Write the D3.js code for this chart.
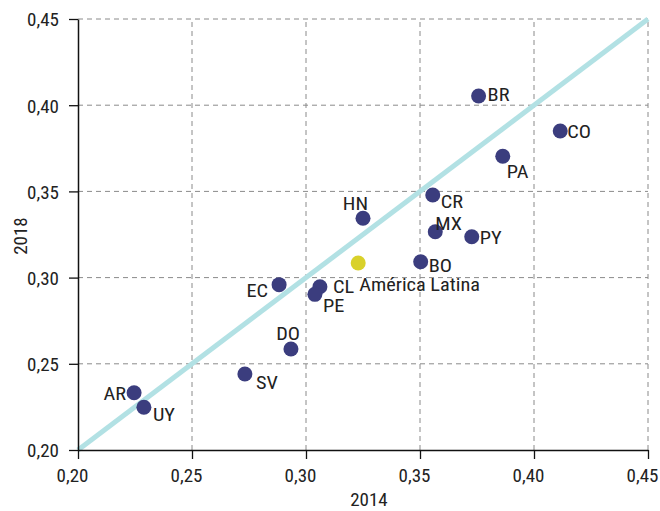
<!DOCTYPE html>
<html>
<head>
<meta charset="utf-8">
<script src="https://cdn.jsdelivr.net/npm/d3@7"></script>
<style>
  html, body { margin: 0; padding: 0; background: #fff; }
  text { font-family: "Roboto Condensed", Roboto, sans-serif; fill: #222; }
</style>
</head>
<body>
<svg id="chart" width="660" height="511"></svg>
<script>
// ---- data ----
const codes = ["AR","UY","EC","CL","PE","HN","América Latina","BO","CR","MX","PY","BR","CO","PA","DO","SV"];
const x2014 = [0.2246,0.2289,0.2882,0.3061,0.3039,0.3250,0.3229,0.3503,0.3556,0.3567,0.3727,0.3757,0.4115,0.3863,0.2934,0.2732];
const y2018 = [0.2332,0.2248,0.2959,0.2947,0.2903,0.3344,0.3085,0.3092,0.3479,0.3266,0.3237,0.4053,0.3850,0.3704,0.2586,0.2441];
const isRegion = [0,0,0,0,0,0,1,0,0,0,0,0,0,0,0,0];
const tickValues = [0.20,0.25,0.30,0.35,0.40,0.45];
const tickLabels = ["0,20","0,25","0,30","0,35","0,40","0,45"];
const xTitle = "2014", yTitle = "2018";

// ---- label layout (offsets in px from point centre) ----
const labelLayout = {
  "AR": {dx:-8, dy:7, anchor:"end"},
  "UY": {dx:9, dy:14, anchor:"start"},
  "EC": {dx:-11, dy:12, anchor:"end"},
  "CL": {dx:13, dy:6, anchor:"start"},
  "PE": {dx:8, dy:18, anchor:"start"},
  "HN": {dx:5, dy:-8, anchor:"end"},
  "América Latina": {dx:1, dy:28, anchor:"start"},
  "BO": {dx:8, dy:10, anchor:"start"},
  "CR": {dx:8, dy:13, anchor:"start"},
  "MX": {dx:0, dy:-2, anchor:"start"},
  "PY": {dx:8, dy:7, anchor:"start"},
  "BR": {dx:9, dy:5, anchor:"start"},
  "CO": {dx:7, dy:7, anchor:"start"},
  "PA": {dx:4, dy:22, anchor:"start"},
  "DO": {dx:9, dy:-9, anchor:"end"},
  "SV": {dx:11, dy:15, anchor:"start"}
};

const svg = d3.select("#chart");
const mLeft = 78, mRight = 648, mTop = 19, mBottom = 450;
const x = d3.scaleLinear().domain([0.20,0.45]).range([mLeft,mRight]);
const y = d3.scaleLinear().domain([0.20,0.45]).range([mBottom,mTop]);
const fmt = d => tickLabels[tickValues.findIndex(t => Math.abs(t-d) < 1e-9)];

// grid
const grid = svg.append("g");
tickValues.slice(1).forEach(t => {
  grid.append("line").attr("x1", x(t)).attr("x2", x(t)).attr("y1", mBottom).attr("y2", mTop)
    .attr("stroke", "#8a8a8a").attr("stroke-width", 1).attr("stroke-dasharray", "5,4");
  grid.append("line").attr("x1", mLeft).attr("x2", mRight).attr("y1", y(t)).attr("y2", y(t))
    .attr("stroke", "#8a8a8a").attr("stroke-width", 1).attr("stroke-dasharray", "5,4");
});

// diagonal
svg.append("line")
  .attr("x1", x(0.20)).attr("y1", y(0.20)).attr("x2", x(0.45)).attr("y2", y(0.45))
  .attr("stroke", "#b2e1e4").attr("stroke-width", 5);

// axes
const xAxis = d3.axisBottom(x).tickValues(tickValues).tickFormat(fmt).tickSize(9).tickPadding(10).tickSizeOuter(0);
const yAxis = d3.axisLeft(y).tickValues(tickValues).tickFormat(fmt).tickSize(9).tickPadding(10).tickSizeOuter(0);
const gx = svg.append("g").attr("transform", `translate(0,${mBottom})`).call(xAxis);
const gy = svg.append("g").attr("transform", `translate(${mLeft},0)`).call(yAxis);
[gx, gy].forEach(g => {
  g.attr("font-family", null).attr("font-size", null);
  g.select(".domain").attr("stroke", "#111").attr("stroke-width", 1.5);
  g.selectAll(".tick line").attr("stroke", "#111").attr("stroke-width", 1.3);
  g.selectAll(".tick text").style("font-size", "19px").attr("fill", "#222");
});
gy.selectAll(".tick text").attr("dy", "0.36em");
gx.selectAll(".tick text").attr("dx", -6);

// axis titles
svg.append("text").attr("x", 369).attr("y", 506).attr("text-anchor", "middle")
  .style("font-size", "19px").text(xTitle);
svg.append("text").attr("transform", `translate(27,236) rotate(-90)`)
  .attr("text-anchor", "middle").style("font-size", "19px").text(yTitle);

// points
const pts = codes.map((c,i) => ({c, x:x2014[i], y:y2018[i], r:isRegion[i]}));
svg.append("g").selectAll("circle").data(pts).join("circle")
  .attr("cx", d => x(d.x)).attr("cy", d => y(d.y)).attr("r", 7.5)
  .attr("fill", d => d.r ? "#d9d12a" : "#3b3d7e");

// labels
svg.append("g").selectAll("text").data(pts).join("text")
  .attr("transform", d => `translate(${x(d.x) + labelLayout[d.c].dx},${y(d.y) + labelLayout[d.c].dy}) scale(1.07,1)`)
  .attr("text-anchor", d => labelLayout[d.c].anchor)
  .style("font-size", "19px")
  .text(d => d.c);
</script>
</body>
</html>
